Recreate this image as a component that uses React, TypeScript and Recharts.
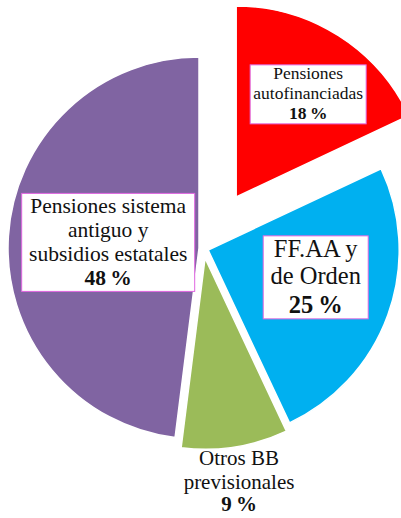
import { PieChart, Pie, Cell } from 'recharts';

const categories = [
  'Pensiones autofinanciadas',
  'FF.AA y de Orden',
  'Otros BB previsionales',
  'Pensiones sistema antiguo y subsidios estatales',
];
const shares = [18, 25, 9, 48];
const labelLines = [
  ['Pensiones', 'autofinanciadas'],
  ['FF.AA y', 'de Orden'],
  ['Otros BB', 'previsionales'],
  ['Pensiones sistema', 'antiguo y', 'subsidios estatales'],
];

const COLORS = ['#ff0000', '#00b0f0', '#9bbb59', '#8064a2'];
const CENTER = { x: 203.5, y: 248.4 };
const RADIUS = 191;
const EXPLODE = [61, 5, 10, 4.5];
const BOX_STROKE = '#e066e0';
const FONT = '"Liberation Serif", "Times New Roman", serif';

// label placement per slice: distance from slice apex along mid angle, nudge, text size
const LABELS = [
  { r: 125, dx: 5, dy: 3, fontSize: 17.5, box: { w: 116, h: 59 }, baselines: [-15, 5, 25] },
  { r: 110, dx: 4, dy: -10, fontSize: 24.5, box: { w: 105, h: 83 }, baselines: [-20, 7, 36] },
  { r: 230, dx: -2, dy: -2, fontSize: 21, box: null, baselines: [-18, 6, 28] },
  { r: 91, dx: 0, dy: 0, fontSize: 21.5, box: { w: 173, h: 98 }, baselines: [-29, -5, 19, 43] },
];

const data = categories.map((name, i) => ({ name, value: shares[i] }));
const total = shares.reduce((a, b) => a + b, 0);

function midAngleOf(i: number) {
  const before = shares.slice(0, i).reduce((a, b) => a + b, 0);
  return ((before + shares[i] / 2) / total) * 360;
}

function makeLabel(slice: number) {
  return (props: any) => {
    if (props.index !== slice) return null;
    const cfg = LABELS[slice];
    const rad = (-props.midAngle * Math.PI) / 180;
    const x = props.cx + cfg.r * Math.cos(rad) + cfg.dx;
    const y = props.cy + cfg.r * Math.sin(rad) + cfg.dy;
    const lines = labelLines[slice];
    return (
      <g>
        {cfg.box && (
          <rect
            x={x - cfg.box.w / 2}
            y={y - cfg.box.h / 2}
            width={cfg.box.w}
            height={cfg.box.h}
            fill="#fff"
            stroke={BOX_STROKE}
            strokeWidth={1}
          />
        )}
        {lines.map((t, k) => (
          <text
            key={k}
            x={x}
            y={y + cfg.baselines[k]}
            textAnchor="middle"
            fontFamily={FONT}
            fontSize={cfg.fontSize}
            fill="#111"
          >
            {t}
          </text>
        ))}
        <text
          x={x}
          y={y + cfg.baselines[lines.length]}
          textAnchor="middle"
          fontFamily={FONT}
          fontSize={cfg.fontSize}
          fontWeight="bold"
          fill="#111"
        >
          {`${shares[slice]}\u2009%`}
        </text>
      </g>
    );
  };
}

export default function App() {
  return (
    <div style={{ position: 'absolute', left: 0, top: 0, width: 401, height: 518, background: '#fff' }}>
      <PieChart width={401} height={518} margin={{ top: 0, right: 0, bottom: 0, left: 0 }}>
        {categories.map((_, i) => {
          const mid = (midAngleOf(i) * Math.PI) / 180;
          const cx = CENTER.x + EXPLODE[i] * Math.sin(mid);
          const cy = CENTER.y - EXPLODE[i] * Math.cos(mid);
          return (
            <Pie
              key={i}
              data={data}
              dataKey="value"
              nameKey="name"
              cx={cx}
              cy={cy}
              outerRadius={RADIUS}
              startAngle={90}
              endAngle={-270}
              isAnimationActive={false}
              label={makeLabel(i)}
              labelLine={false}
            >
              {data.map((d, j) => (
                <Cell
                  key={d.name}
                  fill={j === i ? COLORS[j] : 'transparent'}
                  stroke={j === i ? '#fff' : 'none'}
                  strokeWidth={j === i ? 1.5 : 0}
                />
              ))}
            </Pie>
          );
        })}
      </PieChart>
    </div>
  );
}
